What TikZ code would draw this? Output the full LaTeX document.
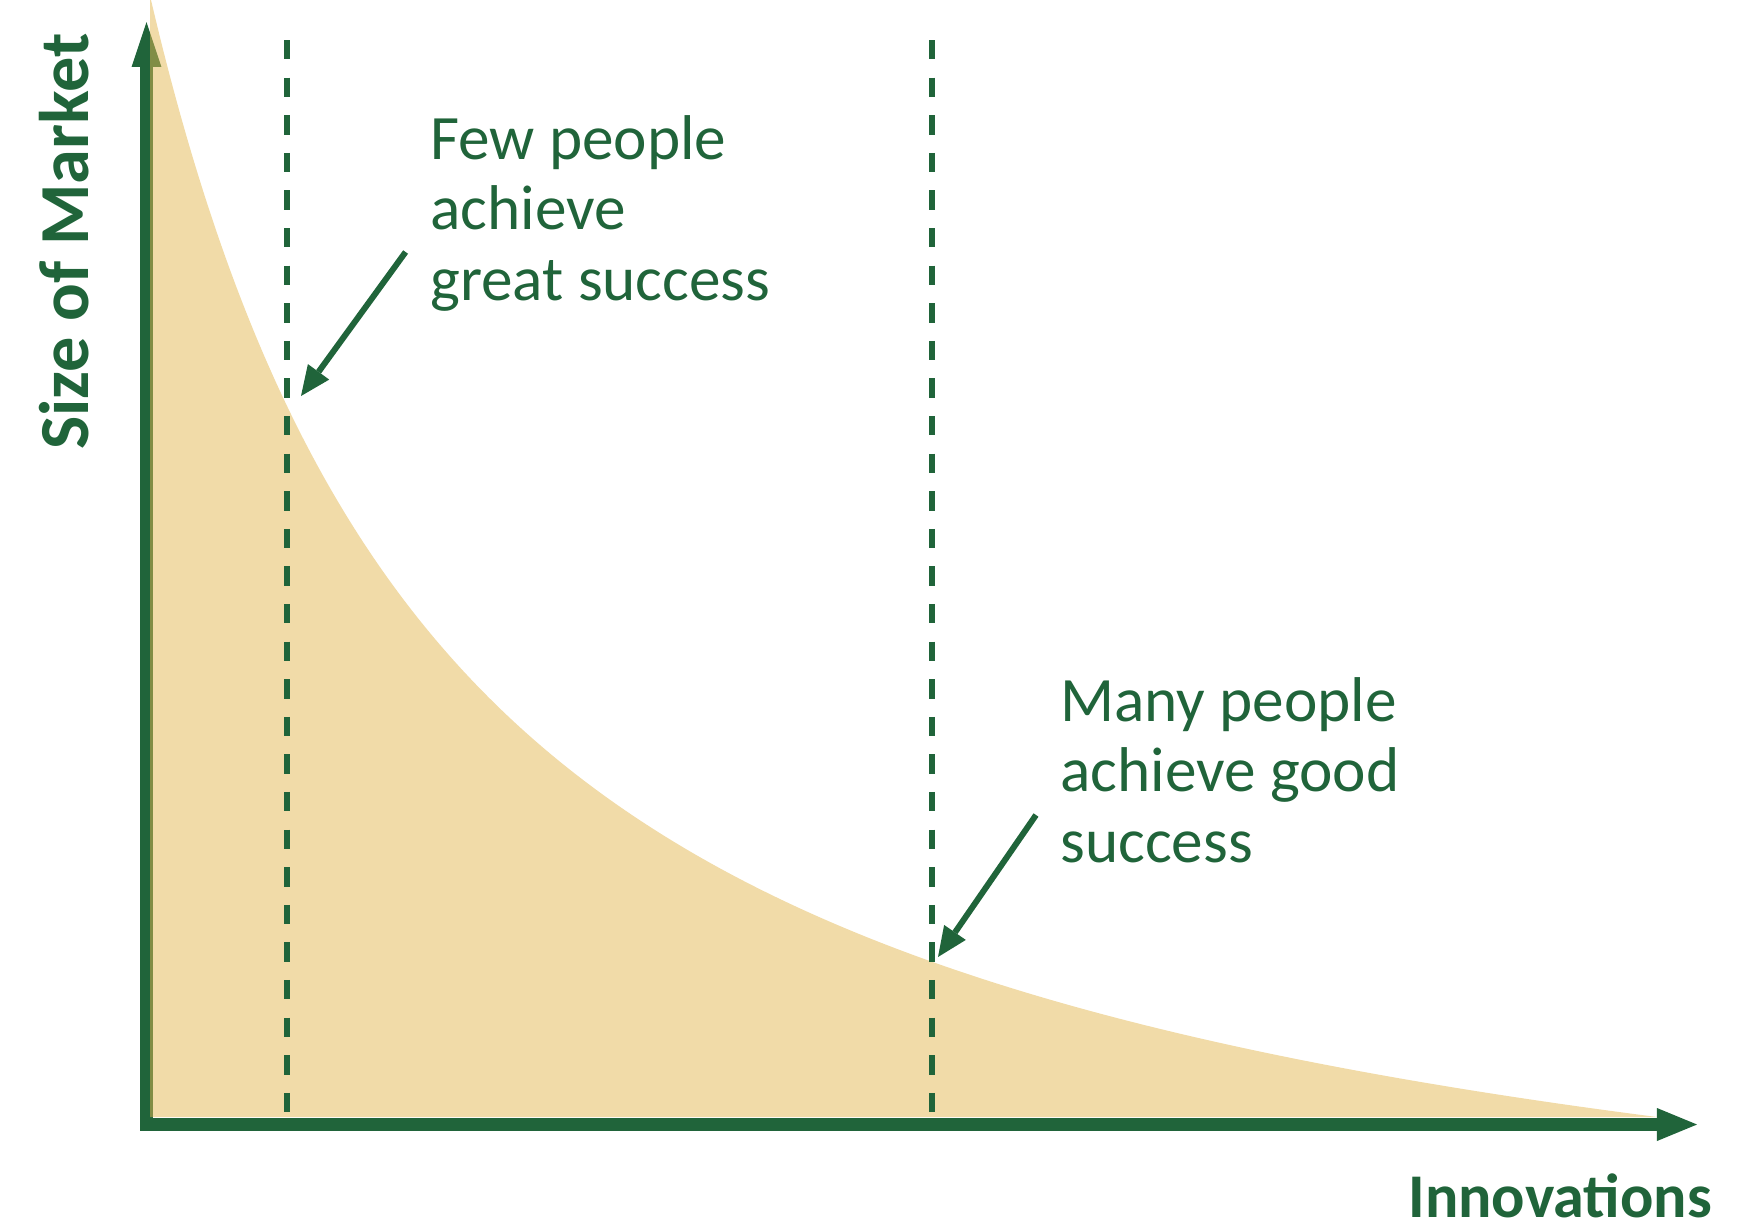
\documentclass[tikz,border=0pt]{standalone}
\usepackage{fontspec}
\setmainfont{Carlito}
\usepackage{tikz}
\usepackage{xcolor}
\usetikzlibrary{arrows.meta}
\definecolor{mktgreen}{RGB}{32,100,58}
\definecolor{mktfill}{RGB}{227,183,81}

\begin{document}
\begin{tikzpicture}[x=0.02cm,y=-0.02cm]
        \useasboundingbox (0,0) rectangle (1757,1225);
        \tikzstyle{every node}=[inner sep=0pt, text=mktgreen]
        \tikzstyle{axisline}=[draw=mktgreen, line width=7.5pt, line join=miter]
        \tikzstyle{guide}=[draw=mktgreen, line width=3.2pt, dash pattern=on 11pt off 10.4pt]
        \tikzstyle{pointer}=[draw=mktgreen, line width=3.4pt, -{Triangle[length=17pt,width=15pt,line width=0pt]}]
        \tikzstyle{notetext}=[align=left, font=\fontsize{36}{40}\selectfont]

        \coordinate (o) at (146.5,1124.5);
        \coordinate (ytip) at (146.5,22);
        \coordinate (xtip) at (1697,1124.5);

        \draw[axisline, {Triangle[length=25.6pt,width=17pt,line width=0pt]}-{Triangle[length=22.8pt,width=18.8pt,line width=0pt]}] (ytip) -- (o) -- (xtip);

        % the long tail
        \fill[mktfill, fill opacity=0.5] (150,1117) -- (150,0) -- plot[domain=151:1657, samples=160, smooth] (\x,{1352.1-4286/((\x+166)/100)}) -- cycle;

        \coordinate (g1top) at (287,40);
        \coordinate (g1bot) at (287,1117);
        \coordinate (g2top) at (932,40);
        \coordinate (g2bot) at (932,1117);
        \draw[guide] (g1top) -- (g1bot);
        \draw[guide] (g2top) -- (g2bot);

        \node[notetext, anchor=base west] (few) at (430,300) {Few people\\achieve\\great success};
        \node[notetext, anchor=base west] (many) at (1060,862) {Many people\\achieve good\\success};

        \coordinate (fewstart) at (405.6,252);
        \coordinate (fewhit) at (301,396);
        \coordinate (manystart) at (1036,815);
        \coordinate (manyhit) at (938,957);
        \draw[pointer] (fewstart) -- (fewhit);
        \draw[pointer] (manystart) -- (manyhit);

        \node[font=\fontsize{40}{40}\selectfont\bfseries, rotate=90, anchor=base west] (ylab) at (88,450) {Size of Market};
        \node[font=\fontsize{35.4}{36}\selectfont\bfseries, anchor=base east] (xlab) at (1712,1217) {Innovations};
\end{tikzpicture}
\end{document}
